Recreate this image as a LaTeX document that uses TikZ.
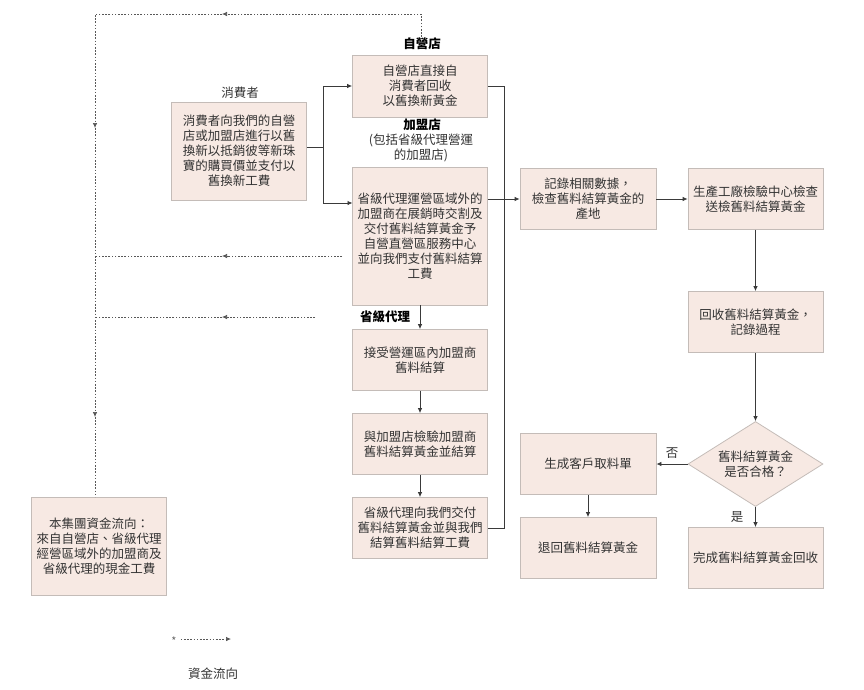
\documentclass[tikz,border=0pt]{standalone}
\usepackage{fontspec}
\setmainfont{Noto Sans CJK TC}
\usetikzlibrary{arrows.meta,shapes.geometric}
\definecolor{boxfill}{HTML}{F7E9E3}
\definecolor{boxdraw}{HTML}{C4BCB8}
\definecolor{linec}{HTML}{3A3A3A}
\tikzset{
  box/.style={draw=boxdraw, fill=boxfill, line width=0.8pt, align=center,
    minimum width=135pt, minimum height=61pt, inner sep=2pt,
    font=\fontsize{12.5}{15}\selectfont, text=black!80},
  conn/.style={draw=linec, line width=0.8pt},
  arr/.style={conn, -{Latex[length=5pt,width=4.5pt]}},
  money/.style={draw=linec!85, line width=0.7pt, dash pattern=on 1.6pt off 1.6pt},
  marr/.style={money, -{Latex[length=5pt,width=4.5pt]}},
  lbl/.style={font=\fontsize{12.5}{15}\selectfont, align=center, text=black!80},
  blbl/.style={font=\fontsize{12.5}{15}\selectfont\bfseries, text=black},
}
\begin{document}
\begin{tikzpicture}[x=1pt,y=-1pt]
\useasboundingbox (0,0) rectangle (864,689);

% boxes
\node[box, minimum height=98pt] (cons) at (239,151) {消費者向我們的自營\\店或加盟店進行以舊\\換新以抵銷彼等新珠\\寶的購買價並支付以\\舊換新工費};
\node[box, minimum height=62pt] (self) at (420,86) {自營店直接自\\消費者回收\\以舊換新黃金};
\node[box, minimum height=138pt] (fran) at (420,236) {省級代理運營區域外的\\加盟商在展銷時交割及\\交付舊料結算黃金予\\自營直營區服務中心\\並向我們支付舊料結算\\工費};
\node[box] (acc) at (420,360) {接受營運區內加盟商\\舊料結算};
\node[box] (chk) at (420,444) {與加盟店檢驗加盟商\\舊料結算黃金並結算};
\node[box] (pay) at (420,528) {省級代理向我們交付\\舊料結算黃金並與我們\\結算舊料結算工費};
\node[box, minimum width=136pt] (rec) at (588,199) {記錄相關數據，\\檢查舊料結算黃金的\\產地};
\node[box] (fac) at (755.5,199) {生產工廠檢驗中心檢查\\送檢舊料結算黃金};
\node[box] (recov) at (755.5,322) {回收舊料結算黃金，\\記錄過程};
\node[box, shape=diamond, minimum width=135pt, minimum height=85pt, inner sep=0pt, aspect=1.6] (dia) at (755.5,464) {舊料結算黃金\\是否合格？};
\node[box] (done) at (755.5,558) {完成舊料結算黃金回收};
\node[box, minimum width=136pt] (gen) at (588,464) {生成客戶取料單};
\node[box, minimum width=136pt] (ret) at (588,548) {退回舊料結算黃金};
\node[box, minimum height=98pt] (grp) at (99,546) {本集團資金流向：\\來自自營店、省級代理\\經營區域外的加盟商及\\省級代理的現金工費};

% labels
\node[lbl] (lcons) at (240,93) {消費者};
\node[blbl] (lself) at (422,44) {自營店};
\node[blbl] (lfran) at (422,125) {加盟店};
\node[lbl] (lfran2) at (421,148) {(包括省級代理營運\\的加盟店)};
\node[blbl] (lprov) at (385,317) {省級代理};
\node[lbl] (lno) at (672,453) {否};
\node[lbl] (lyes) at (737,517) {是};

% solid connectors
\coordinate (j) at (323,147);
\coordinate (fin) at (352.5,203);
\coordinate (rv) at (504,528);
\draw[conn] (cons.east |- j) -- (j);
\draw[arr] (j) |- (self.west);
\draw[arr] (j) |- (fin);
\draw[conn] (self.east) -| (rv) -- (pay.east);
\draw[arr] (fran.east |- rec.west) -- (rec.west);
\draw[arr] (rec.east) -- (fac.west);
\draw[arr] (fac.south) -- (recov.north);
\draw[arr] (recov.south) -- (dia.north);
\draw[arr] (dia.west) -- (gen.east);
\draw[arr] (dia.south) -- (done.north);
\draw[arr] (gen.south) -- (ret.north);
\draw[arr] (fran.south) -- (acc.north);
\draw[arr] (acc.south) -- (chk.north);
\draw[arr] (chk.south) -- (pay.north);

% money flow (dashed)
\coordinate (t0) at (421,37);
\coordinate (t1) at (421,14);
\coordinate (t2) at (222,14);
\coordinate (t3) at (95,14);
\coordinate (t4) at (95,128);
\coordinate (t5) at (95,417);
\coordinate (t6) at (95,497);
\draw[marr] (t0) -- (t1) -- (t2);
\draw[marr] (t2) -- (t3) -- (t4);
\draw[marr] (t4) -- (t5);
\draw[money] (t5) -- (t6);
\coordinate (m1a) at (342,256);
\coordinate (m1b) at (222,256);
\coordinate (m1c) at (95,256);
\draw[marr] (m1a) -- (m1b);
\draw[money] (m1b) -- (m1c);
\coordinate (m2a) at (315,317);
\coordinate (m2b) at (222,317);
\coordinate (m2c) at (95,317);
\draw[marr] (m2a) -- (m2b);
\draw[money] (m2b) -- (m2c);

% legend
\node[text=black!60, font=\fontsize{11}{11}\selectfont, inner sep=0pt] (star) at (174,641) {*};
\coordinate (legend end) at (231,639);
\draw[marr] (star.east |- legend end) ++(4,0) -- (legend end);
\node[lbl] (llegend) at (213,674) {資金流向};
\end{tikzpicture}
\end{document}
